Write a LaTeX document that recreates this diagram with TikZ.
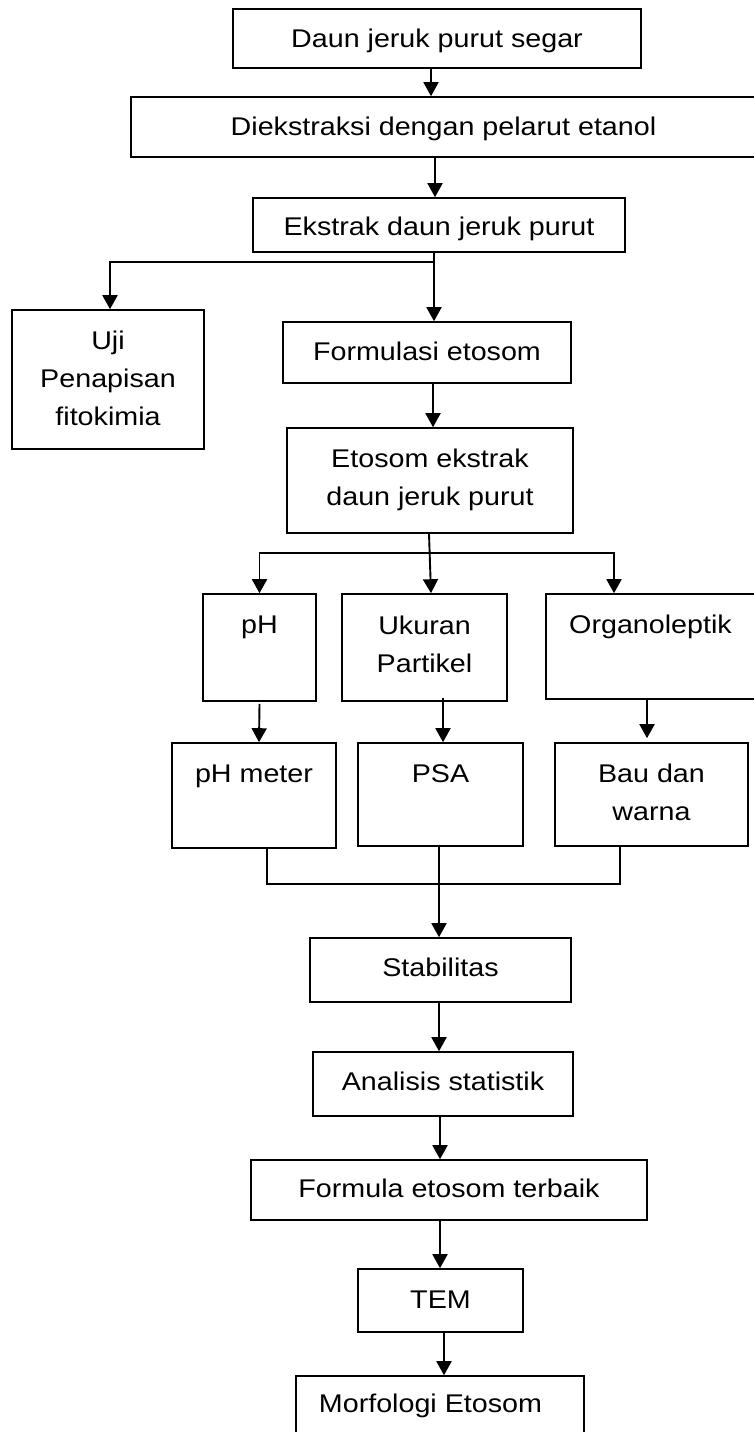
\documentclass[tikz,border=0pt]{standalone}
\usepackage{fontspec}
\setmainfont{Liberation Sans}[FakeStretch=1.12]
\usepackage{tikz}
\usetikzlibrary{arrows.meta,calc}

\begin{document}
\begin{tikzpicture}[x=1pt,y=-1pt,
    font=\fontsize{25.6}{38}\selectfont,
    blok/.style={draw, line width=1.6pt, anchor=base, inner sep=0pt, align=center},
    panah/.style={-{Triangle[width=15pt,length=14pt]}, line width=1.9pt},
    garis/.style={line width=1.9pt}]
    \fill [white] (0,0) rectangle (753,1432);
    \useasboundingbox (0,0) rectangle (753,1432);

    % Ekstraksi
    \node [blok, minimum width=408pt, text height=38pt, text depth=21pt] (segar) at (437,47) {Daun jeruk purut segar};
    \node [blok, minimum width=625pt, text height=38pt, text depth=22pt] (ekstraksi) at (443.5,135) {Diekstraksi dengan pelarut etanol};
    \node [blok, minimum width=372pt, text height=37pt, text depth=17pt] (ekstrak) at (439,235) {Ekstrak daun jeruk purut};
    \node [blok, minimum width=192pt, text height=115pt, text depth=24pt] (uji) at (108,425) {Uji\\Penapisan\\fitokimia};
    \node [blok, minimum width=288pt, text height=38pt, text depth=23pt] (formulasi) at (427,360) {Formulasi etosom};
    \node [blok, minimum width=286pt, text height=77pt, text depth=28pt] (etosom) at (430,505) {Etosom ekstrak\\daun jeruk purut};

    % Evaluasi
    \node [blok, minimum width=113pt, text height=39pt, text depth=68pt] (ph) at (259.5,633) {pH};
    \node [blok, minimum width=165pt, text height=78pt, text depth=29pt] (ukuran) at (424.5,672) {Ukuran\\Partikel};
    \node [blok, minimum width=209pt, text height=39pt, text depth=66pt] (organo) at (650.5,633) {Organoleptik};
    \node [blok, minimum width=164pt, text height=39pt, text depth=66pt] (phmeter) at (254,782) {pH meter};
    \node [blok, minimum width=165pt, text height=39pt, text depth=64pt] (psa) at (440.5,782) {PSA};
    \node [blok, minimum width=193pt, text height=77pt, text depth=26pt] (bau) at (651.5,820) {Bau dan\\warna};

    % Stabilitas dan formula terbaik
    \node [blok, minimum width=261pt, text height=38pt, text depth=26pt] (stabil) at (440.5,976) {Stabilitas};
    \node [blok, minimum width=260pt, text height=38pt, text depth=26pt] (analisis) at (443,1090) {Analisis statistik};
    \node [blok, minimum width=396pt, text height=37pt, text depth=23pt] (terbaik) at (449,1197) {Formula etosom terbaik};
    \node [blok, minimum width=165pt, text height=39pt, text depth=24pt] (tem) at (440.5,1308) {TEM};
    \node [blok, minimum width=288pt, text height=36pt, text depth=38pt] (morfologi) at (440,1412) {Morfologi Etosom\hspace*{19pt}};

    % panah utama
    \draw [panah] ([xshift=-6pt]segar.south) -- ([xshift=-12.5pt]ekstraksi.north);
    \draw [panah] ([xshift=-8.5pt]ekstraksi.south) -- ([xshift=-4pt]ekstrak.north);
    \draw [panah] ([xshift=-5pt]ekstrak.south) -- ([xshift=7pt]formulasi.north);
    \coordinate (cabang1) at ([xshift=-5pt,yshift=-9pt]ekstrak.south);
    \draw [panah] (cabang1) -| ([xshift=2pt]uji.north);
    \draw [panah] ([xshift=6pt]formulasi.south) -- ([xshift=3pt]etosom.north);

    % cabang evaluasi
    \draw [panah] ([xshift=-1pt]etosom.south) -- ([xshift=6.5pt]ukuran.north);
    \coordinate (cabang2) at ([xshift=-0.7pt,yshift=-19pt]etosom.south);
    \draw [panah] (cabang2) -| (ph.north);
    \draw [panah] (cabang2) -| ([xshift=-36.5pt]organo.north);
    \draw [panah] ([yshift=-2pt]ph.south) -- ([xshift=5pt]phmeter.north);
    \draw [panah] ([xshift=18.5pt,yshift=4pt]ukuran.south) -- ([xshift=2.5pt]psa.north);
    \draw [panah] ([xshift=-3.5pt,yshift=2pt]organo.south) -- ([xshift=-4.5pt,yshift=4pt]bau.north);

    % gabung ke stabilitas
    \coordinate (kumpul) at ([xshift=-1.5pt,yshift=-37pt]psa.south);
    \draw [garis] ([xshift=13pt]phmeter.south) |- (kumpul) -| ([xshift=-31.5pt]bau.south);
    \draw [garis] ([xshift=-1.5pt]psa.south) -- (kumpul);
    \draw [panah] (kumpul) -- ([xshift=-1.5pt]stabil.north);
    \draw [panah] ([xshift=-1.5pt]stabil.south) -- ([xshift=-4pt]analisis.north);
    \draw [panah] ([xshift=-3pt]analisis.south) -- ([xshift=-9pt]terbaik.north);
    \draw [panah] ([xshift=-9pt]terbaik.south) -- ([xshift=-0.5pt]tem.north);
    \draw [panah] ([xshift=3.5pt]tem.south) -- ([xshift=4pt]morfologi.north);
\end{tikzpicture}
\end{document}
